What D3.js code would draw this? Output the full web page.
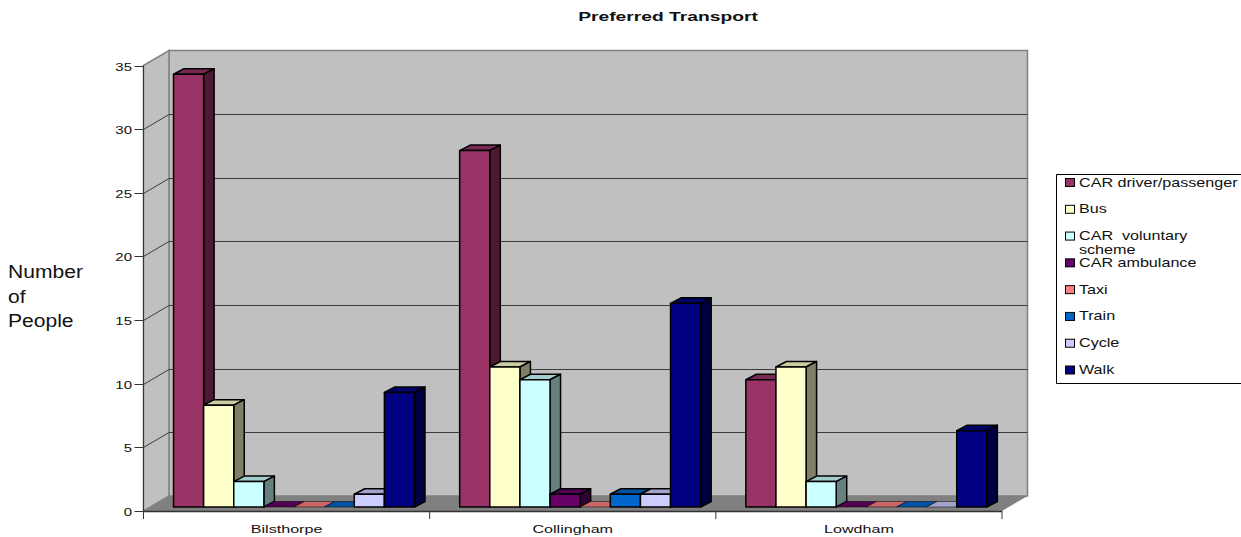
<!DOCTYPE html>
<html><head><meta charset="utf-8">
<style>html,body{margin:0;padding:0;background:#fff;overflow:hidden}svg{display:block}text{font-family:"Liberation Sans",Arial,sans-serif;fill:#111;white-space:pre}</style>
<script src="https://cdn.jsdelivr.net/npm/d3@7"></script></head><body>
<script>
const categories = ["Bilsthorpe","Collingham","Lowdham"];
const seriesNames = ["CAR driver/passenger","Bus","CAR  voluntary scheme","CAR ambulance","Taxi","Train","Cycle","Walk"];
const seriesColors = ["#993366","#FFFFCC","#CCFFFF","#660066","#FF8080","#0066CC","#CCCCFF","#000080"];
const carDriver = [34,28,10];
const bus = [8,11,11];
const carVoluntary = [2,10,2];
const carAmbulance = [0,1,0];
const taxi = [0,0,0];
const train = [0,1,0];
const cycle = [1,1,0];
const walk = [9,16,6];
const seriesValues = [carDriver,bus,carVoluntary,carAmbulance,taxi,train,cycle,walk];
const yTicks = [0,5,10,15,20,25,30,35];

const W=1241,H=537;
const svg=d3.select("body").append("svg").attr("width",W).attr("height",H);
const x0=d3.scaleBand().domain(categories).range([143.5,1002]);
const xS=d3.scaleBand().domain(d3.range(seriesNames.length)).range([30,271]);
const y=d3.scaleLinear().domain([0,35]).range([511,65.5]);
const wallDx=25.5, wallDy=-15;
const barBase=-4, barDx=10.5, barDy=-5.5;
const poly=p=>p.map(d=>d.join(",")).join(" ");
const L=x0.range()[0],R=x0.range()[1];
// text stretched horizontally by factor k, as in the reference
function label(parent,x,yy,str,size,k,anchor){
  const t=parent.append("text").attr("x",x).attr("y",yy).attr("font-size",size).attr("text-anchor",anchor||"start").text(str);
  const len=t.node().getComputedTextLength();
  t.attr("textLength",len*k).attr("lengthAdjust","spacingAndGlyphs");
  return t;
}

svg.append("polygon").attr("points",poly([[L,y(0)],[L+wallDx,y(0)+wallDy],[R+wallDx,y(0)+wallDy],[R,y(0)]])).attr("fill","#808080");
svg.append("polygon").attr("points",poly([[L+wallDx,y(35)+wallDy],[R+wallDx,y(35)+wallDy],[R+wallDx,y(0)+wallDy],[L+wallDx,y(0)+wallDy]])).attr("fill","#C0C0C0").attr("stroke","#808080").attr("stroke-width",1.5);
svg.append("polygon").attr("points",poly([[L,y(35)],[L+wallDx,y(35)+wallDy],[L+wallDx,y(0)+wallDy],[L,y(0)]])).attr("fill","#C0C0C0").attr("stroke","#808080").attr("stroke-width",1.5);
const grid=svg.append("g").attr("fill","none").attr("stroke","#3c3c3c").attr("stroke-width",1);
yTicks.filter(t=>t>0&&t<35).forEach(t=>{
  const yy=Math.round(y(t))+.5;
  grid.append("polyline").attr("points",poly([[L,yy],[L+wallDx,yy+wallDy],[R+wallDx,yy+wallDy]]));
});
const axL=svg.append("g").attr("stroke","#333");
axL.append("line").attr("x1",L).attr("x2",L).attr("y1",y(35)).attr("y2",y(0));
axL.append("line").attr("x1",L).attr("x2",R).attr("y1",y(0)+.5).attr("y2",y(0)+.5).attr("stroke-width",1.3);
yTicks.forEach(t=>{
  const yy=Math.round(y(t))+.5;
  axL.append("line").attr("x1",L-9).attr("x2",L).attr("y1",yy).attr("y2",yy);
  label(svg,L-11.5,yy+4.5,String(t),11.5,1.3,"end");
});
[L,...categories.map(c=>x0(c)+x0.bandwidth())].forEach(xx=>{
  axL.append("line").attr("x1",xx).attr("x2",xx).attr("y1",y(0)).attr("y2",y(0)+8);
});
categories.forEach(c=>{
  label(svg,x0(c)+x0.bandwidth()/2,532.5,c,11.5,1.4,"middle");
});
categories.forEach((c,ci)=>{
  seriesNames.forEach((s,si)=>{
    const v=seriesValues[si][ci], col=d3.color(seriesColors[si]);
    const xa=x0(c)+xS(si), xb=xa+xS.bandwidth();
    const b=y(0)+barBase, t=y(v)+barBase;
    const g=svg.append("g").attr("stroke","#000").attr("stroke-width",1.5).attr("stroke-linejoin","round");
    g.append("polygon").attr("points",poly([[xa,t],[xa+barDx,t+barDy],[xb+barDx,t+barDy],[xb,t]])).attr("fill",d3.rgb(col.r*.8,col.g*.8,col.b*.8)).attr("stroke-width",v?1.5:.5);
    if(v>0){
      g.append("polygon").attr("points",poly([[xb,t],[xb+barDx,t+barDy],[xb+barDx,b+barDy],[xb,b]])).attr("fill",d3.rgb(col.r*.5,col.g*.5,col.b*.5));
      g.append("rect").attr("x",xa).attr("y",t).attr("width",xb-xa).attr("height",b-t).attr("fill",col);
    }
  });
});
label(svg,668,20.5,"Preferred Transport",13,1.48,"middle").attr("font-weight","bold").each(function(){
  this.removeAttribute("textLength");
  const len=this.getComputedTextLength();
  this.setAttribute("textLength",len*1.48);
});
["Number","of","People"].forEach((t,i)=>label(svg,8,278+i*24.5,t,18,1.17));
const lg=svg.append("g");
lg.append("path").attr("d","M1241,174.5H1056.5V383.5H1241").attr("fill","#fff").attr("stroke","#000");
const legY=d3.scalePoint().domain(seriesNames).range([182,369.5]);
seriesNames.forEach((s,i)=>{
  const yy=legY(s);
  lg.append("rect").attr("x",1065.5).attr("y",yy-3.5).attr("width",9).attr("height",8).attr("fill",seriesColors[i]).attr("stroke","#000");
  const lines=i===2?["CAR  voluntary","scheme"]:[s];
  lines.forEach((l,k)=>label(lg,1079,yy+4.5+(i===2?k*13.5:0),l,13,1.24));
});
</script></body></html>
